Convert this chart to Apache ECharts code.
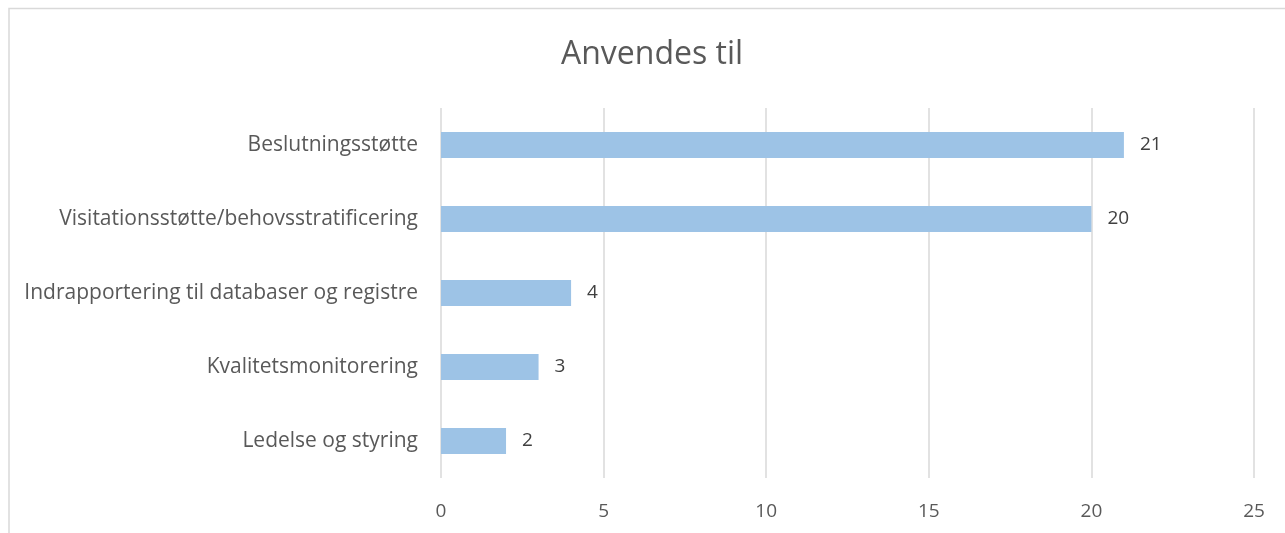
<!DOCTYPE html>
<html>
<head>
<meta charset="utf-8">
<script src="https://cdn.jsdelivr.net/npm/echarts@6/dist/echarts.min.js"></script>
<style>
  html, body { margin: 0; padding: 0; background: #fff; }
  #chart { width: 1285px; height: 533px; }
</style>
</head>
<body>
<div id="chart"></div>
<script>
// kategorier, nederste først (ECharts tegner category-aksen nedefra)
const categories = [
  'Ledelse og styring',
  'Kvalitetsmonitorering',
  'Indrapportering til databaser og registre',
  'Visitationsstøtte/behovsstratificering',
  'Beslutningsstøtte'
]
const counts = [2, 3, 4, 20, 21]
const xTicks = [0, 5, 10, 15, 20, 25]

const font = '"Open Sans", sans-serif'
const chart = echarts.init(document.getElementById('chart'))

const option = {
  animation: false,
  title: {
    text: 'Anvendes til',
    left: 556,
    top: 34,
    textStyle: { fontFamily: font, fontSize: 32, fontWeight: 'normal', color: '#595959' }
  },
  graphic: [{
    type: 'rect',
    shape: { x: 9, y: 8.5, width: 1300, height: 560 },
    style: { fill: 'none', stroke: '#d9d9d9', lineWidth: 1.5 },
    silent: true
  }],
  grid: {
    left: 441,
    right: 31,
    top: 108,
    bottom: 55
  },
  xAxis: {
    type: 'value',
    min: xTicks[0],
    max: xTicks[xTicks.length - 1],
    interval: 5,
    axisLine: { show: false },
    axisTick: { show: false },
    axisLabel: { fontFamily: font, fontSize: 19, color: '#595959', margin: 24 },
    splitLine: { lineStyle: { color: '#d9d9d9', width: 1.5 } }
  },
  yAxis: {
    type: 'category',
    data: categories,
    axisLine: { show: false },
    axisTick: { show: false },
    axisLabel: { fontFamily: font, fontSize: 21, color: '#595959', margin: 23 }
  },
  series: [{
    type: 'bar',
    data: counts,
    barWidth: 26,
    itemStyle: { color: '#9dc3e6' },
    label: {
      show: true,
      position: 'right',
      distance: 16,
      fontFamily: font,
      fontSize: 19,
      color: '#404040'
    }
  }]
}

chart.setOption(option)
</script>
</body>
</html>
